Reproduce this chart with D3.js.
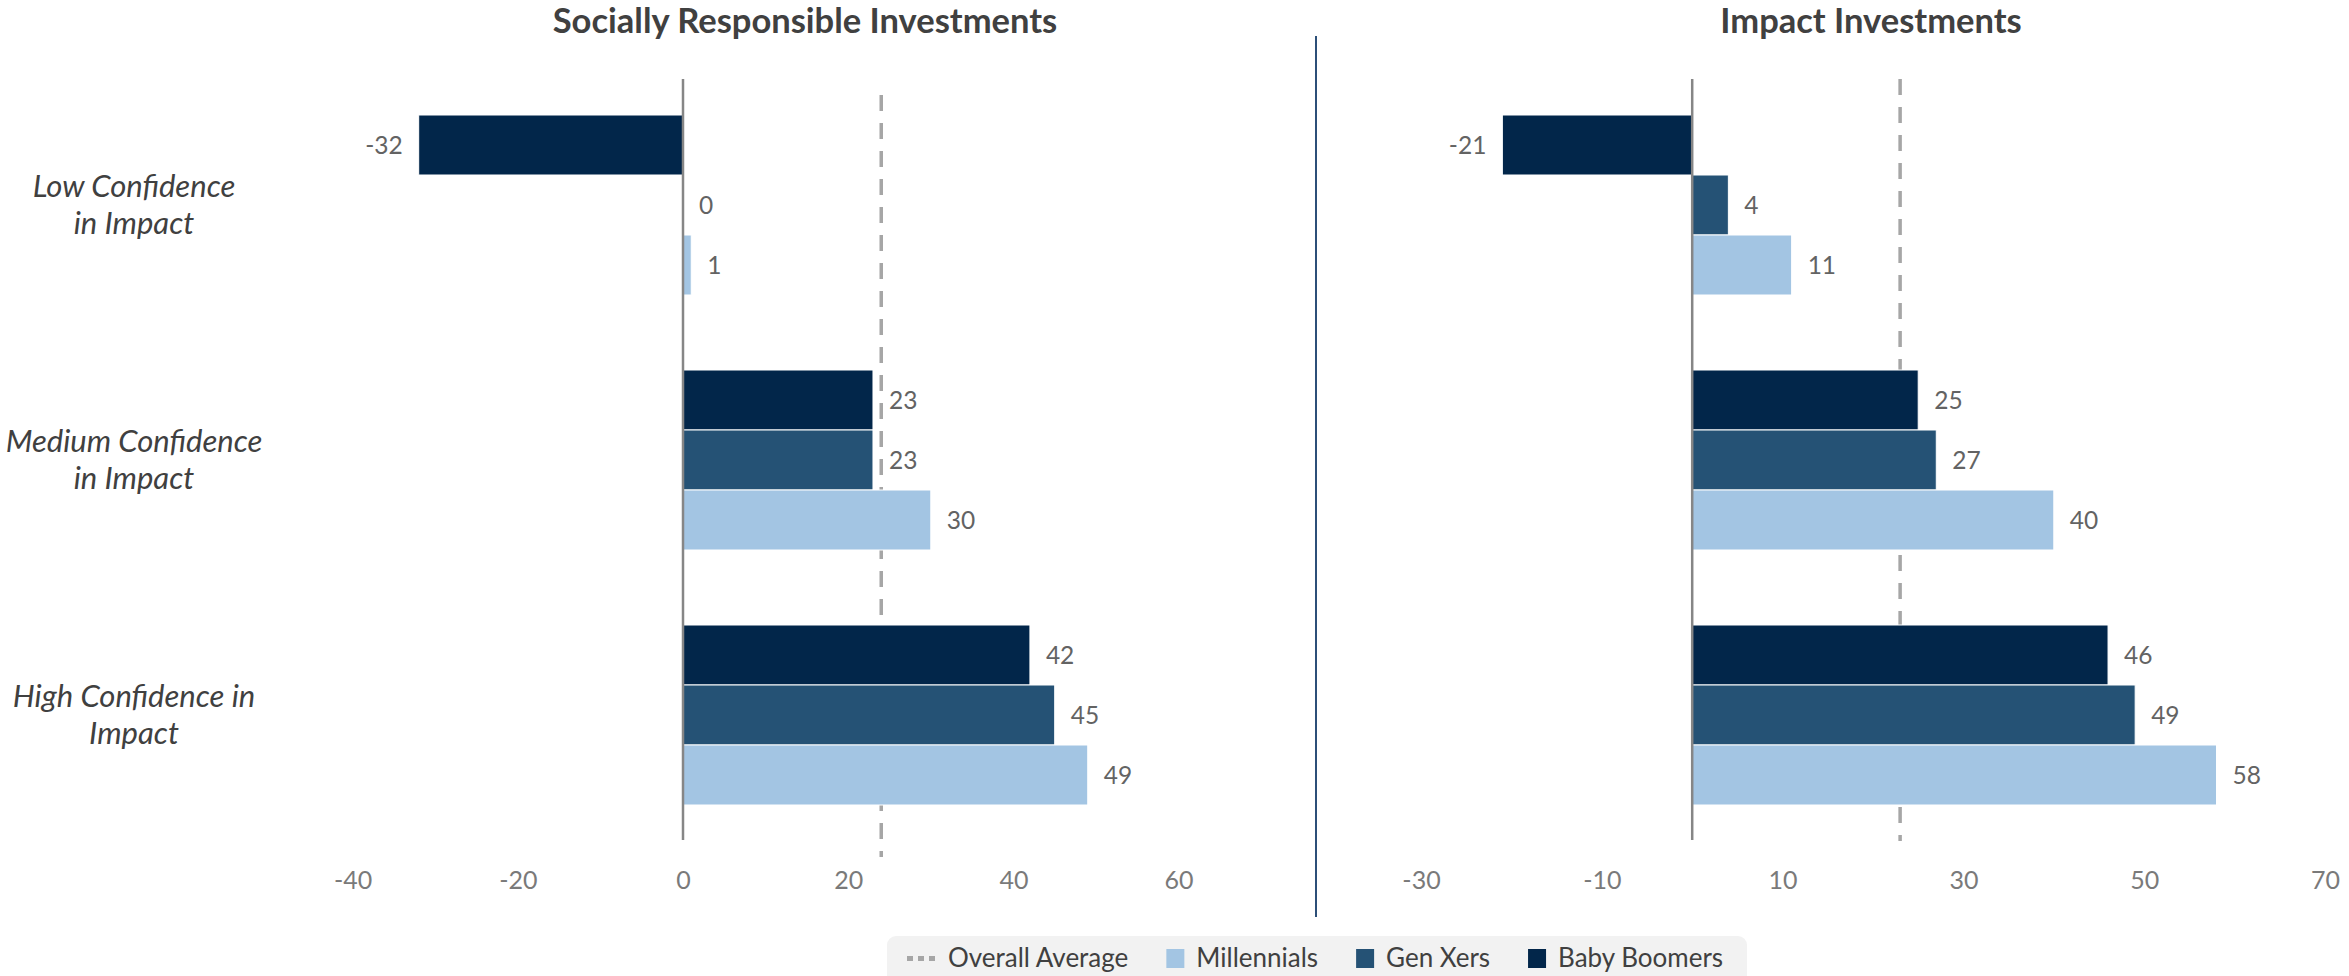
<!DOCTYPE html>
<html>
<head>
<meta charset="utf-8">
<script src="https://cdn.jsdelivr.net/npm/d3@7"></script>
<style>
  html, body { margin: 0; padding: 0; background: #ffffff; }
  svg { display: block; font-family: Lato, "Open Sans", "Liberation Sans", sans-serif; }
</style>
</head>
<body>
<svg id="chart" width="2349" height="976"></svg>
<script>
// Confidence groups (rows) and generations (bars within each row, top to bottom)
const categories = ["Low Confidence in Impact", "Medium Confidence in Impact", "High Confidence in Impact"];
const categoryLines = [["Low Confidence", "in Impact"], ["Medium Confidence", "in Impact"], ["High Confidence in", "Impact"]];
const series = ["Baby Boomers", "Gen Xers", "Millennials"];
const seriesColors = ["#02264a", "#255275", "#a3c5e3"];

// Socially Responsible Investments, per category: [Baby Boomers, Gen Xers, Millennials]
const sriValues = [[-32, 0, 1], [23, 23, 30], [42, 45, 49]];
const sriAverage = 24;
const sriTicks = [-40, -20, 0, 20, 40, 60];

// Impact Investments, per category: [Baby Boomers, Gen Xers, Millennials]
const impactValues = [[-21, 4, 11], [25, 27, 40], [46, 49, 58]];
const impactAverage = 23;
const impactTicks = [-30, -10, 10, 30, 50, 70];

const legendItems = ["Overall Average", "Millennials", "Gen Xers", "Baby Boomers"];

const svg = d3.select("#chart");

const y = d3.scaleBand().domain(categories).range([79, 841]).paddingInner(75 / 255).paddingOuter(36 / 255);
const ySeries = d3.scaleBand().domain(series).range([0, y.bandwidth()]);
const color = d3.scaleOrdinal().domain(series).range(seriesColors);

// plain hyphen-minus for negative numbers
const fmt = d => String(d);

function drawPanel(opts) {
  const x = d3.scaleLinear().domain(opts.domain).range(opts.range);
  const g = svg.append("g");

  // title
  g.append("text")
    .attr("x", opts.titleX).attr("y", 33)
    .attr("text-anchor", "middle")
    .attr("font-size", 34.5).attr("font-weight", 700)
    .attr("fill", "#404040")
    .text(opts.title);

  // overall average reference line (behind bars)
  g.append("line")
    .attr("x1", x(opts.average)).attr("x2", x(opts.average))
    .attr("y1", opts.avgY[0]).attr("y2", opts.avgY[1])
    .attr("stroke", "#a6a6a6").attr("stroke-width", 3.5)
    .attr("stroke-dasharray", "16,12");

  // bars
  const rows = g.selectAll("g.row").data(categories).join("g")
    .attr("class", "row")
    .attr("transform", d => `translate(0,${y(d)})`);

  rows.each(function (cat, i) {
    const vals = series.map((s, j) => ({ s, v: opts.values[i][j] }));
    const r = d3.select(this);
    r.selectAll("rect").data(vals).join("rect")
      .attr("x", d => x(Math.min(0, d.v)))
      .attr("width", d => Math.abs(x(d.v) - x(0)))
      .attr("y", d => ySeries(d.s))
      .attr("height", ySeries.bandwidth())
      .attr("fill", d => color(d.s))
      .attr("stroke", "#ffffff").attr("stroke-width", 1);

    r.selectAll("text.val").data(vals).join("text")
      .attr("class", "val")
      .attr("x", d => d.v < 0 ? x(d.v) - 16 : x(d.v) + 16)
      .attr("y", d => ySeries(d.s) + ySeries.bandwidth() / 2)
      .attr("dy", "0.36em")
      .attr("text-anchor", d => d.v < 0 ? "end" : "start")
      .attr("font-size", 24.5)
      .attr("fill", "#636363")
      .text(d => fmt(d.v));
  });

  // zero axis line
  g.append("line")
    .attr("x1", x(0)).attr("x2", x(0))
    .attr("y1", y.range()[0]).attr("y2", y.range()[1] - 1)
    .attr("stroke", "#868686").attr("stroke-width", 2.5);

  // value axis tick labels
  const axis = d3.axisBottom(x).tickValues(opts.ticks).tickSize(0).tickPadding(0).tickFormat(fmt);
  const ax = g.append("g").attr("transform", "translate(0,889)").call(axis);
  ax.select(".domain").remove();
  ax.selectAll("text")
    .attr("y", 0).attr("dy", 0)
    .attr("font-size", 25)
    .attr("font-family", "Lato, 'Open Sans', sans-serif")
    .attr("fill", "#7a7a7a");

  return x;
}

drawPanel({
  title: "Socially Responsible Investments", titleX: 805,
  domain: [-40, 60], range: [352.6, 1178.6],
  values: sriValues, average: sriAverage, avgY: [95, 857], ticks: sriTicks
});

drawPanel({
  title: "Impact Investments", titleX: 1871,
  domain: [-30, 70], range: [1421, 2325],
  values: impactValues, average: impactAverage, avgY: [79, 841], ticks: impactTicks
});

// category labels (left side only)
const catG = svg.append("g");
categories.forEach((c, i) => {
  const cy = y(c) + y.bandwidth() / 2;
  const t = catG.append("text")
    .attr("text-anchor", "middle")
    .attr("font-size", 31).attr("font-style", "italic")
    .attr("fill", "#404040");
  categoryLines[i].forEach((line, k) => {
    t.append("tspan").attr("x", 134).attr("y", cy - 8 + k * 37).text(line);
  });
});

// divider between the two panels
svg.append("line")
  .attr("x1", 1316).attr("x2", 1316).attr("y1", 36).attr("y2", 917)
  .attr("stroke", "#2c4f78").attr("stroke-width", 2);

// legend
const legend = svg.append("g");
legend.append("rect")
  .attr("x", 887).attr("y", 936).attr("width", 860).attr("height", 60)
  .attr("rx", 9).attr("fill", "#f2f2f2");

const legendColors = { "Millennials": "#a3c5e3", "Gen Xers": "#255275", "Baby Boomers": "#02264a" };
let lx = 907;
legendItems.forEach((name, i) => {
  if (i === 0) {
    legend.append("line")
      .attr("x1", lx).attr("x2", lx + 32).attr("y1", 958.5).attr("y2", 958.5)
      .attr("stroke", "#a6a6a6").attr("stroke-width", 5).attr("stroke-dasharray", "6,5");
    lx += 41;
  } else {
    legend.append("rect")
      .attr("x", lx).attr("y", 949).attr("width", 18).attr("height", 19)
      .attr("fill", legendColors[name]);
    lx += 30;
  }
  const t = legend.append("text")
    .attr("x", lx).attr("y", 967)
    .attr("font-size", 26).attr("fill", "#404040")
    .text(name);
  lx += t.node().getComputedTextLength() + 38;
});
</script>
</body>
</html>
